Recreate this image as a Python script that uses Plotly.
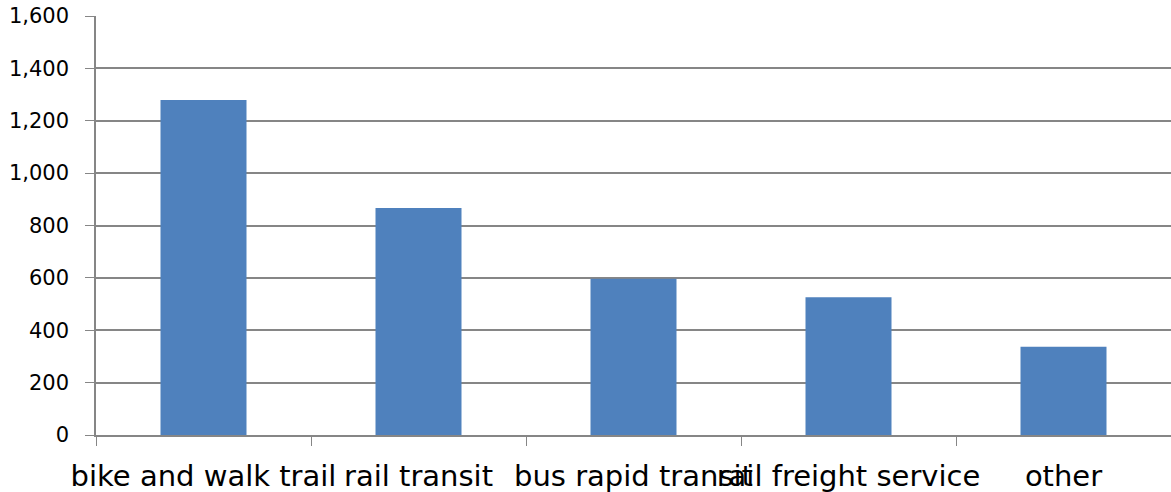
import plotly.graph_objects as go

categories = ["bike and walk trail", "rail transit", "bus rapid transit", "rail freight service", "other"]
values = [1279, 867, 597, 526, 337]
y_ticks = [0, 200, 400, 600, 800, 1000, 1200, 1400, 1600]
y_tick_labels = ["0", "200", "400", "600", "800", "1,000", "1,200", "1,400", "1,600"]

fig = go.Figure(go.Bar(x=categories, y=values, marker=dict(color="#4F81BD", line=dict(width=0))))

fig.update_layout(
    width=1171, height=492,
    margin=dict(l=96, r=0, t=16, b=57),
    paper_bgcolor="white", plot_bgcolor="white",
    bargap=0.6,
    showlegend=False,
    font=dict(family="DejaVu Sans", color="black"),
)
fig.update_xaxes(
    type="category", tickangle=0, tickson="boundaries", ticks="outside", ticklen=9,
    tickcolor="#868686", showline=True, linecolor="#868686", linewidth=1.5,
    showgrid=False, tickfont=dict(size=29), ticklabelstandoff=14, automargin=False,
)
fig.update_yaxes(
    range=[0, 1600], tickvals=y_ticks, ticktext=y_tick_labels, ticks="outside", ticklen=9,
    tickcolor="#868686", showline=True, linecolor="#868686", linewidth=1.5,
    showgrid=True, gridcolor="#868686", gridwidth=1.5, zeroline=False,
    tickfont=dict(size=21), ticklabelstandoff=12, ticklabeloverflow="allow", automargin=False,
)
fig.write_html("out.html", config={"displayModeBar": False},
               post_script="document.body.style.margin='0';")
